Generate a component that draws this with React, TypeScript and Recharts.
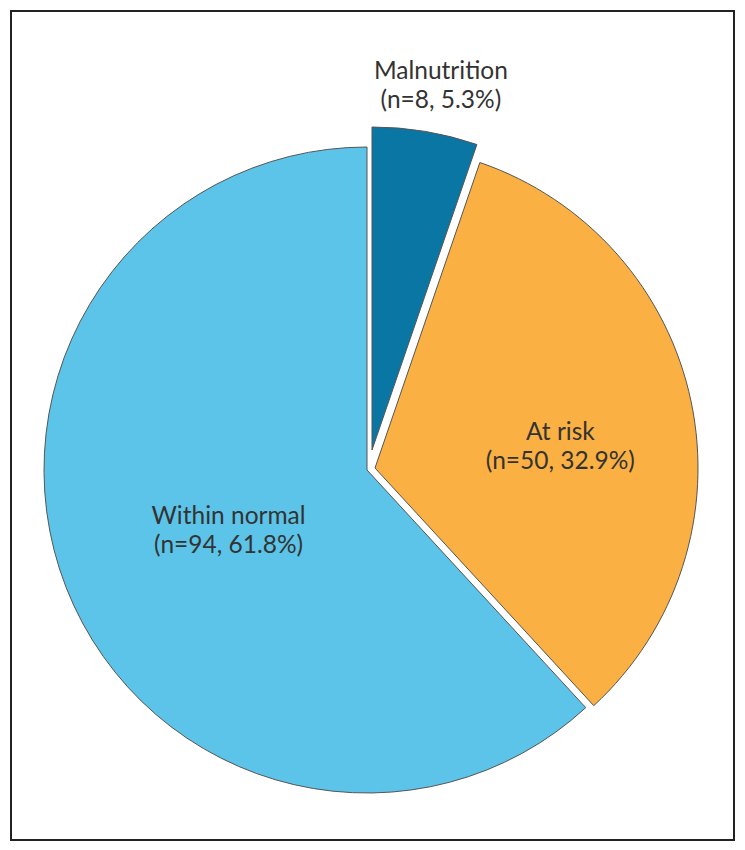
import React from 'react';
import { PieChart, Pie, Cell } from 'recharts';

const categories = ['Malnutrition', 'At risk', 'Within normal'];
const counts = [8, 50, 94];
const percents = [5.3, 32.9, 61.8];

const COLORS = ['#0A76A4', '#FAB042', '#5CC4E8'];

// each slice is drawn by its own Pie so it can be pulled out a little
const SLICE_CENTERS = [
  { cx: 372, cy: 450 },
  { cx: 375, cy: 468 },
  { cx: 367, cy: 470 },
];
const LABEL_RADIUS = [1.145, 0.58, 0.47];
const LABEL_SHIFT = [
  { dx: 8, dy: 0 },
  { dx: 2, dy: 16 },
  { dx: 3, dy: 5 },
];
const RADIAN = Math.PI / 180;

const data = categories.map((name, i) => ({
  name,
  value: counts[i],
  pct: percents[i],
}));

const makeLabel = (own: number) => (props: any) => {
  const { cx, cy, midAngle, outerRadius, index } = props;
  if (index !== own) return null;
  const r = outerRadius * LABEL_RADIUS[own];
  const x = cx + r * Math.cos(-midAngle * RADIAN) + LABEL_SHIFT[own].dx;
  const y = cy + r * Math.sin(-midAngle * RADIAN) + LABEL_SHIFT[own].dy;
  const d = data[own];
  return (
    <text
      x={x}
      y={y}
      textAnchor="middle"
      fill="#333"
      fontFamily="Lato, 'Open Sans', sans-serif"
      fontSize={24.5}
    >
      <tspan x={x} dy={-6}>{d.name}</tspan>
      <tspan x={x} dy={29}>{`(n=${d.value}, ${d.pct}%)`}</tspan>
    </text>
  );
};

const App: React.FC = () => {
  const order = [2, 1, 0];
  return (
    <div style={{ position: 'absolute', left: 0, top: 0, width: 745, height: 850, background: '#fff' }}>
      <div
        style={{
          position: 'absolute',
          left: 10,
          top: 10,
          width: 721,
          height: 827,
          border: '2px solid #222',
        }}
      />
      <div style={{ position: 'absolute', left: 0, top: 0 }}>
        <PieChart width={745} height={850} margin={{ top: 0, right: 0, bottom: 0, left: 0 }}>
          {order.map((own) => (
            <Pie
              key={own}
              data={data}
              dataKey="value"
              nameKey="name"
              cx={SLICE_CENTERS[own].cx}
              cy={SLICE_CENTERS[own].cy}
              startAngle={90}
              endAngle={-270}
              innerRadius={0}
              outerRadius={323}
              labelLine={false}
              label={makeLabel(own)}
              isAnimationActive={false}
              legendType="none"
            >
              {data.map((entry, i) => (
                <Cell
                  key={`cell-${i}`}
                  fill={i === own ? COLORS[i] : 'none'}
                  stroke={i === own ? '#555' : 'none'}
                  strokeWidth={1}
                />
              ))}
            </Pie>
          ))}
        </PieChart>
      </div>
    </div>
  );
};

export default App;
